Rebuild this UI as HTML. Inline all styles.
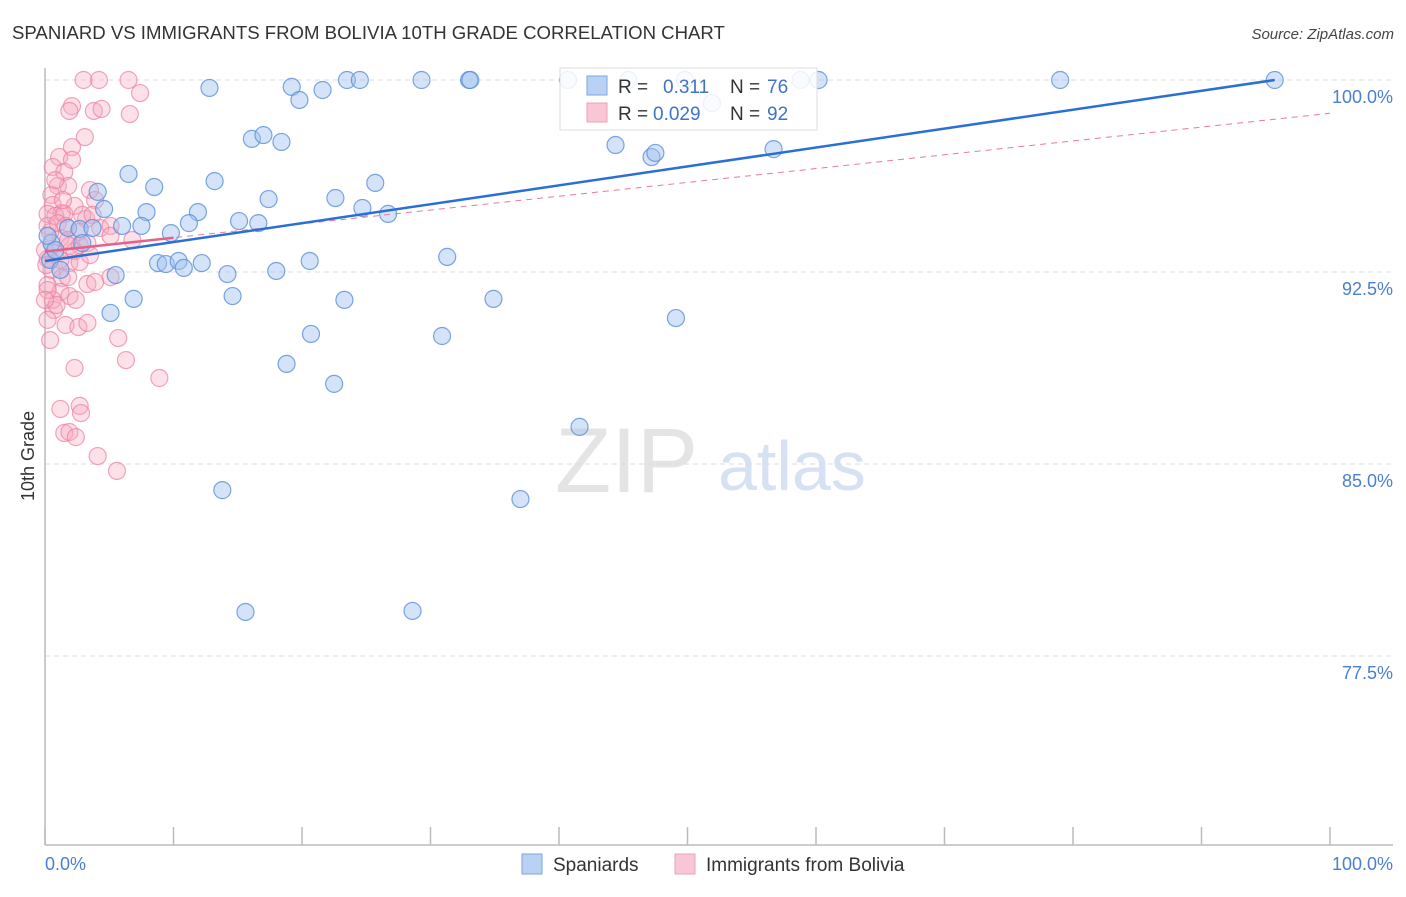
<!DOCTYPE html>
<html><head><meta charset="utf-8"><style>
body{margin:0;background:#fff;font-family:"Liberation Sans",sans-serif;}
svg text{font-family:"Liberation Sans",sans-serif;}
</style></head><body>
<svg id="chart" width="1406" height="892" viewBox="0 0 1406 892" xmlns="http://www.w3.org/2000/svg">
<text x="12" y="39" font-size="18.6" fill="#333">SPANIARD VS IMMIGRANTS FROM BOLIVIA 10TH GRADE CORRELATION CHART</text>
<text x="1394" y="39" font-size="15" fill="#444" text-anchor="end" font-style="italic">Source: ZipAtlas.com</text>
<g>
<text x="555" y="492" font-size="92" fill="#e4e4e4" font-family="Liberation Serif, serif">ZIP</text>
<text x="718" y="490" font-size="70" fill="#d6e2f3">atlas</text>
</g>
<g id="grid"></g>
<line x1="45" y1="68" x2="45" y2="845" stroke="#bbb" stroke-width="1.5"/>
<line x1="45" y1="845" x2="1393" y2="845" stroke="#bbb" stroke-width="1.5"/>
<g id="xticks"></g>
<text transform="translate(34,456) rotate(-90)" font-size="18" fill="#333" text-anchor="middle">10th Grade</text>
<text x="45" y="870" font-size="18" fill="#4a7fd0">0.0%</text>
<text x="1393" y="870" font-size="18" fill="#4a7fd0" text-anchor="end">100.0%</text>
<g id="pts"></g>
<g id="trends"></g>
<g>
<rect x="560" y="68" width="257" height="62" fill="#fff" fill-opacity="0.85" stroke="#ddd"/>
<rect x="587" y="76" width="20" height="19" fill="#b9d1f2" stroke="#7ea6e0"/>
<rect x="587" y="103" width="20" height="19" fill="#f9c6d5" stroke="#eda0b8"/>
<text x="618" y="93" font-size="19" fill="#333">R =</text>
<text x="663" y="93" font-size="19" fill="#3f73c8">0.311</text>
<text x="730" y="93" font-size="19" fill="#333">N =</text>
<text x="767" y="93" font-size="19" fill="#3f73c8">76</text>
<text x="618" y="120" font-size="19" fill="#333">R =</text>
<text x="653" y="120" font-size="19" fill="#3f73c8">0.029</text>
<text x="730" y="120" font-size="19" fill="#333">N =</text>
<text x="767" y="120" font-size="19" fill="#3f73c8">92</text>
</g>
<g>
<rect x="522" y="854" width="20" height="20" fill="#b9d1f2" stroke="#7ea6e0"/>
<text x="553" y="871" font-size="19" fill="#333">Spaniards</text>
</g>
<g>
<rect x="675" y="854" width="20" height="20" fill="#f9c6d5" stroke="#eda0b8"/>
<text x="706" y="871" font-size="19" fill="#333">Immigrants from Bolivia</text>
</g>
</svg>
<script>
const yTicks=[100,92.5,85,77.5];
const yTickLabels=["100.0%","92.5%","85.0%","77.5%"];
const xTicks=[0,10,20,30,40,50,60,70,80,90,100];
const spaniards=[[12.8,99.69],[19.2,99.73],[19.8,99.22],[21.6,99.61],[23.5,100],[24.5,100],[29.3,100],[33.0,100],[33.1,100],[40.7,100],[45.4,100],[49.8,100],[51.9,99.10],[58.8,100],[60.2,100],[79.0,100],[95.7,100],[16.1,97.70],[17.0,97.85],[18.4,97.58],[44.4,97.46],[47.2,96.99],[47.5,97.15],[56.7,97.30],[6.5,96.33],[8.5,95.82],[13.2,96.05],[4.1,95.63],[17.4,95.35],[22.6,95.39],[25.7,95.98],[4.6,94.96],[7.9,94.84],[11.9,94.84],[15.1,94.49],[16.6,94.41],[24.7,95.0],[26.7,94.77],[11.2,94.41],[1.8,94.22],[2.7,94.18],[3.7,94.22],[6.0,94.30],[7.5,94.30],[9.8,94.02],[2.9,93.63],[0.5,93.63],[5.5,92.38],[8.8,92.85],[9.4,92.81],[10.4,92.93],[10.8,92.66],[12.2,92.85],[14.2,92.42],[18.0,92.54],[20.6,92.93],[31.3,93.09],[6.9,91.45],[14.6,91.56],[23.3,91.41],[34.9,91.45],[5.1,90.90],[20.7,90.08],[30.9,90.0],[49.1,90.70],[18.8,88.91],[22.5,88.13],[41.6,86.45],[13.8,83.98],[37.0,83.63],[15.6,79.22],[28.6,79.26],[0.4,92.97],[0.8,93.36],[1.2,92.58],[0.2,93.91]];
const bolivia=[[3.0,100],[4.2,100],[6.5,100],[7.4,99.49],[2.1,98.98],[1.9,98.79],[3.8,98.79],[4.4,98.87],[6.6,98.67],[3.1,97.77],[2.1,97.38],[1.1,96.99],[0.6,96.60],[1.5,96.41],[1.0,95.86],[1.8,95.86],[3.5,95.70],[0.5,95.51],[0.6,95.12],[2.3,95.08],[3.9,95.31],[1.3,94.80],[0.2,94.77],[0.8,94.69],[1.5,94.77],[3.2,94.57],[2.9,94.73],[4.3,94.22],[2.6,94.06],[0.2,94.30],[1.2,93.83],[1.9,93.52],[0.8,93.24],[0.2,93.01],[2.7,93.55],[3.3,93.63],[6.8,93.75],[5.1,94.30],[1.9,92.85],[0.5,92.58],[1.3,92.27],[0.2,91.99],[1.2,91.72],[1.9,91.56],[0.6,91.41],[0.7,91.02],[1.8,92.30],[3.3,92.03],[5.1,92.30],[0.2,90.63],[1.6,90.43],[2.6,90.35],[3.3,90.51],[0.4,89.84],[5.7,89.92],[6.3,89.06],[2.3,88.75],[8.9,88.36],[1.2,87.15],[2.7,87.27],[2.8,86.99],[1.5,86.21],[1.9,86.25],[2.4,86.05],[4.1,85.31],[5.6,84.73],[0.9,91.21],[0.0,93.36],[0.1,92.77],[0.4,94.06],[1.0,94.41],[1.6,94.30],[2.3,93.32],[2.7,92.89],[3.9,92.11],[1.2,92.97],[1.4,95.31],[2.1,96.88],[5.1,93.91],[3.7,94.73],[2.4,91.41],[0.2,91.80],[0.8,96.09],[1.8,93.75],[3.5,93.16],[0.0,91.41]];
const blueTrend=[[0,92.93],[95.7,100]];
const pinkTrend=[[0,93.3],[100,98.7]];
const pinkSolidEnd=10;

const NS="http://www.w3.org/2000/svg";
const X=v=>45+v*12.85;
const Y=v=>80+(100-v)*25.6;
function mk(tag,attrs,parent){const e=document.createElementNS(NS,tag);for(const k in attrs)e.setAttribute(k,attrs[k]);parent.appendChild(e);return e;}
const grid=document.getElementById('grid');
yTicks.forEach((t,i)=>{
  const l=mk('line',{x1:45,x2:1393,y1:Y(t),y2:Y(t),stroke:'#ddd','stroke-dasharray':'5,4'},grid);
  
  
  const tx=mk('text',{x:1393,y:Y(t)+23,'font-size':18,fill:'#4a7fd0','text-anchor':'end'},grid);
  tx.textContent=yTickLabels[i];
  
  
});
const xt=document.getElementById('xticks');
xTicks.forEach(t=>{
  const l=mk('line',{x1:X(t),x2:X(t),y1:827,y2:845,stroke:'#bbb','stroke-width':1.5},xt);
  
  
});
const pts=document.getElementById('pts');
bolivia.forEach(p=>{
  const c=mk('circle',{cx:X(p[0]),cy:Y(p[1]),r:8.5,fill:'#f6a9c0','fill-opacity':0.35,stroke:'#ec7fa0','stroke-opacity':0.7,'stroke-width':1.2},pts);
  
  
});
spaniards.forEach(p=>{
  const c=mk('circle',{cx:X(p[0]),cy:Y(p[1]),r:8.5,fill:'#9fc0ee','fill-opacity':0.45,stroke:'#5a8fdc','stroke-opacity':0.8,'stroke-width':1.2},pts);
  
  
});
const tr=document.getElementById('trends');
const pd=mk('line',{x1:X(pinkTrend[0][0]),y1:Y(pinkTrend[0][1]),x2:X(pinkTrend[1][0]),y2:Y(pinkTrend[1][1]),stroke:'#e8799b','stroke-width':1,'stroke-dasharray':'6,5'},tr);


const slope=(pinkTrend[1][1]-pinkTrend[0][1])/(pinkTrend[1][0]-pinkTrend[0][0]);
const ps=mk('line',{x1:X(pinkTrend[0][0]),y1:Y(pinkTrend[0][1]),x2:X(pinkSolidEnd),y2:Y(pinkTrend[0][1]+slope*pinkSolidEnd),stroke:'#e8608a','stroke-width':2.5},tr);


const bl=mk('line',{x1:X(blueTrend[0][0]),y1:Y(blueTrend[0][1]),x2:X(blueTrend[1][0]),y2:Y(blueTrend[1][1]),stroke:'#2a6fd6','stroke-width':2.5},tr);


</script>
</body></html>
